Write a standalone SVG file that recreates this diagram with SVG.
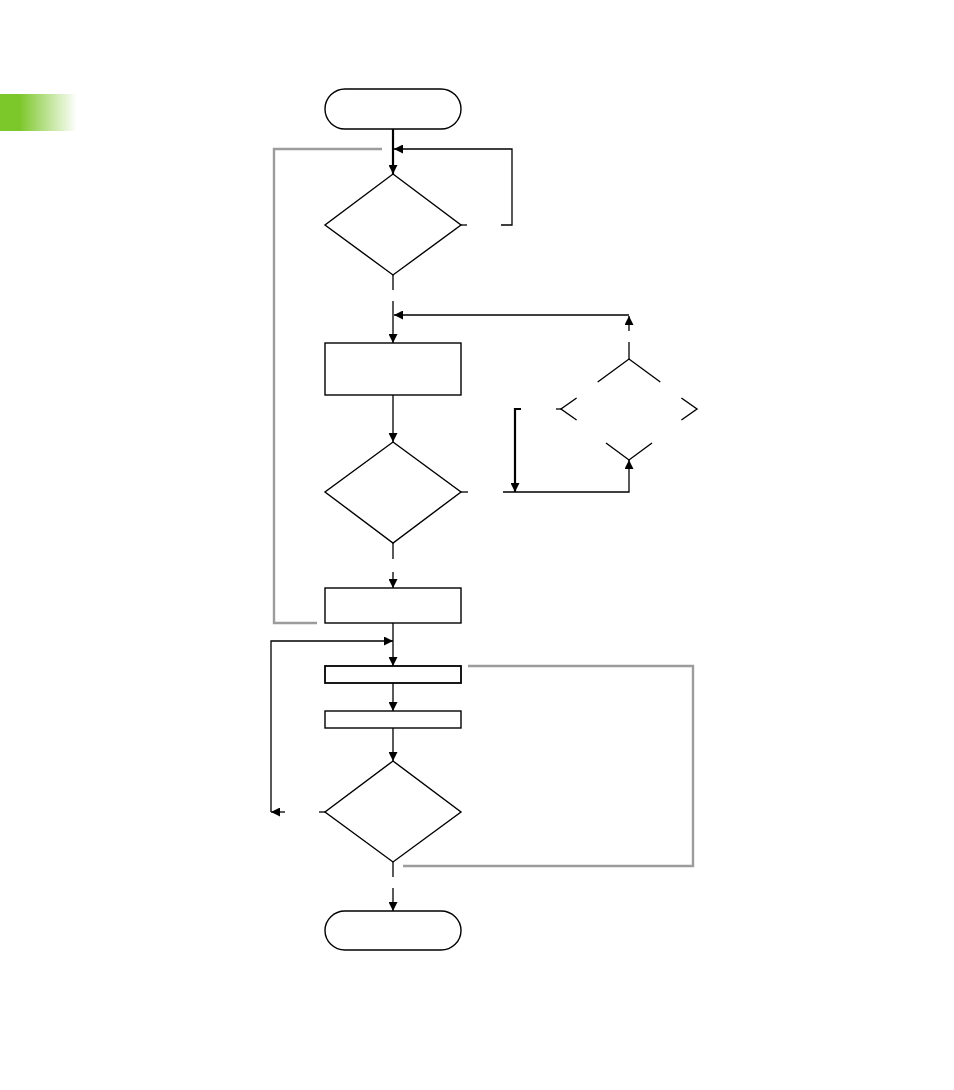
<svg xmlns="http://www.w3.org/2000/svg" width="954" height="1090" viewBox="0 0 954 1090">
<style>
.n{fill:none;stroke:#000;stroke-width:1.4}
.c{fill:none;stroke:#000;stroke-width:1.3}
.t{fill:none;stroke:#000;stroke-width:2.2}
.g{fill:none;stroke:#9c9c9c;stroke-width:2.4}
</style>
<defs>
<linearGradient id="gr" x1="0" y1="0" x2="1" y2="0">
<stop offset="0" stop-color="#7cc72a"/>
<stop offset="0.25" stop-color="#7cc72a"/>
<stop offset="1" stop-color="#ffffff"/>
</linearGradient>
<marker id="a" markerUnits="userSpaceOnUse" markerWidth="9" markerHeight="9" refX="9" refY="4.5" orient="auto" viewBox="0 0 9 9">
<path d="M0,0 L9,4.5 L0,9 z" fill="#000"/>
</marker>
</defs>
<rect x="0" y="94" width="77" height="37" fill="url(#gr)"/>
<g id="connectors">
<path class="t" d="M393,129 L393,174" marker-end="url(#a)"/>
<path class="c" d="M461,225 L467,225"/>
<path class="c" d="M501,225 L512,225 L512,149 L394,149" marker-end="url(#a)"/>
<path class="c" d="M393,275 L393,290"/>
<path class="c" d="M393,301 L393,343" marker-end="url(#a)"/>
<path class="c" d="M629,359 L629,342"/>
<path class="c" d="M629,331 L629,316" marker-end="url(#a)"/>
<path class="c" d="M629,315 L394,315" marker-end="url(#a)"/>
<path class="c" d="M393,395 L393,442" marker-end="url(#a)"/>
<path class="c" d="M461,492 L468,492"/>
<path class="c" d="M503,492 L629,492 L629,460" marker-end="url(#a)"/>
<path class="t" d="M521,409 L515,409 L515,492" marker-end="url(#a)"/>
<path class="c" d="M556,409 L561,409"/>
<path class="c" d="M393,543 L393,559"/>
<path class="c" d="M393,572 L393,588" marker-end="url(#a)"/>
<path class="g" d="M382,149 L274,149 L274,623 L317,623"/>
<path class="c" d="M393,623 L393,666" marker-end="url(#a)"/>
<path class="c" d="M319,812 L325,812"/>
<path class="c" d="M285,812 L271,812" marker-end="url(#a)"/>
<path class="c" d="M271,812 L271,641 L393,641" marker-end="url(#a)"/>
<path class="c" d="M393,683 L393,711" marker-end="url(#a)"/>
<path class="c" d="M393,728 L393,761" marker-end="url(#a)"/>
<path class="c" d="M393,862 L393,877"/>
<path class="c" d="M393,888 L393,911" marker-end="url(#a)"/>
<path class="g" d="M468,666 L693,666 L693,866 L403,866"/>
</g>
<g id="start"><rect class="n" x="325" y="89" width="136" height="40" rx="20"/></g>
<g id="decision1"><polygon class="n" points="393,174 461,225 393,275 325,225"/></g>
<g id="process1"><rect class="n" x="325" y="343" width="136" height="52"/></g>
<g id="decision2"><polygon class="n" points="393,442 461,492 393,543 325,492"/></g>
<g id="decision3"><path class="n" d="M597.7,382 L629,359 L660.3,382 M576.6,398 L561,409 L576.6,420 M681.4,398 L697,409 L681.4,420 M606,443 L629,460 L652,443"/></g>
<g id="process2"><rect class="n" x="325" y="588" width="136" height="35"/></g>
<g id="process3"><rect class="n" x="325" y="666" width="136" height="17" style="stroke-width:1.8"/></g>
<g id="process4"><rect class="n" x="325" y="711" width="136" height="17"/></g>
<g id="decision4"><polygon class="n" points="393,761 461,812 393,862 325,812"/></g>
<g id="end"><rect class="n" x="325" y="911" width="136" height="39" rx="20"/></g>
</svg>
